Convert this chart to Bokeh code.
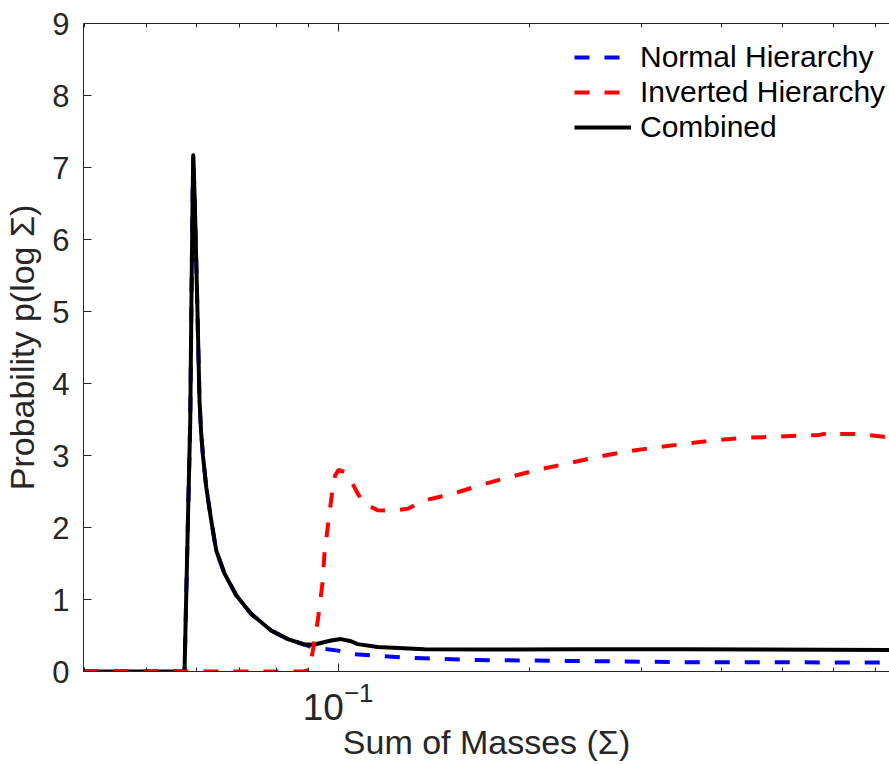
from bokeh.plotting import figure
from bokeh.models import FixedTicker, LogAxis, Legend, LegendItem, LogTickFormatter
from bokeh.embed import file_html
from bokeh.resources import INLINE

# ---------------- data ----------------
combined_x = [0.0398, 0.0569, 0.05737, 0.05808, 0.05857, 0.05882, 0.05906, 0.05921,
              0.05953, 0.06006, 0.06057, 0.06094, 0.06132, 0.06206, 0.06318, 0.06434, 0.0663,
              0.06917, 0.07302, 0.07849, 0.08337, 0.08852, 0.0918, 0.0975, 0.10109,
              0.10481, 0.10738, 0.11541, 0.13663, 0.1739, 0.2407, 0.3455, 0.7356]
combined_y = [0.0, 0.0, 0.01, 2.1, 3.49, 5.15, 6.54, 7.17,
              6.54, 5.15, 3.75, 3.3, 3.0, 2.56, 2.10, 1.68, 1.36,
              1.06, 0.80, 0.57, 0.45, 0.375, 0.375, 0.43, 0.45,
              0.42, 0.38, 0.34, 0.31, 0.305, 0.31, 0.31, 0.30]

normal_x = [0.0398, 0.0569, 0.05737, 0.05808, 0.05857, 0.05882, 0.05906, 0.05921,
            0.05953, 0.06006, 0.06057, 0.06094, 0.06132, 0.06206, 0.06318, 0.06434, 0.0663,
            0.06917, 0.07302, 0.07849, 0.08337, 0.08852, 0.09071, 0.0918, 0.1,
            0.10481, 0.11402, 0.12864, 0.14511, 0.16368, 0.2407, 0.3455, 0.7356]
normal_y = [0.0, 0.0, 0.01, 2.1, 3.49, 5.15, 6.54, 7.17,
            6.54, 5.15, 3.75, 3.3, 3.0, 2.56, 2.10, 1.68, 1.36,
            1.06, 0.80, 0.57, 0.45, 0.375, 0.34, 0.33, 0.29,
            0.245, 0.22, 0.19, 0.176, 0.16, 0.145, 0.13, 0.125]

inverted_x = [0.0398, 0.08812, 0.09014, 0.09127, 0.09293, 0.09462, 0.09517, 0.0969,
              0.09811, 0.09892, 0.1002, 0.10231, 0.10481, 0.10738, 0.10998, 0.11541,
              0.12111, 0.12864, 0.13663, 0.14511, 0.15414, 0.1677, 0.18243, 0.20334,
              0.22666, 0.25263, 0.28155, 0.31379, 0.34963, 0.38969, 0.43431, 0.48407,
              0.53641, 0.5664, 0.58003, 0.59274, 0.60514, 0.64647, 0.67032, 0.72045, 0.7356]
inverted_y = [0.0, 0.0, 0.02, 0.29, 0.71, 1.26, 1.63, 2.19,
              2.56, 2.72, 2.80, 2.77, 2.65, 2.47, 2.33, 2.24,
              2.23, 2.26, 2.375, 2.43, 2.49, 2.59, 2.68, 2.79,
              2.88, 2.97, 3.05, 3.11, 3.16, 3.21, 3.245, 3.26,
              3.28, 3.28, 3.30, 3.27, 3.30, 3.30, 3.29, 3.26, 3.27]

x_major_ticks = [0.1]
x_minor_ticks = [0.04, 0.05, 0.06, 0.07, 0.08, 0.09, 0.2, 0.3, 0.4, 0.5, 0.6, 0.7]
y_ticks = [0, 1, 2, 3, 4, 5, 6, 7, 8, 9]
series_labels = ["Normal Hierarchy", "Inverted Hierarchy", "Combined"]

FONT = "Liberation Sans"
AX_COL = "#262626"

p = figure(width=889, height=765, x_axis_type="log",
           x_range=(0.0398, 0.7356), y_range=(0, 9),
           output_backend="svg", toolbar_location=None,
           min_border_left=82, min_border_right=0, min_border_top=23, min_border_bottom=94)
p.outline_line_color = None
p.xgrid.visible = False
p.ygrid.visible = False
p.background_fill_color = "white"
p.border_fill_color = "white"

r_blue = p.line(normal_x, normal_y, line_color="#0000FF", line_width=4, line_dash="15 15")
r_black = p.line(combined_x, combined_y, line_color="black", line_width=4, line_join="round")
r_red = p.line(inverted_x, inverted_y, line_color="#FF0000", line_width=4, line_dash="15 15")

# x axis
xa = p.xaxis[0]
xa.ticker = FixedTicker(ticks=x_major_ticks, minor_ticks=x_minor_ticks)
xa.formatter = LogTickFormatter()
xa.major_tick_in = 8
xa.major_tick_out = 0
xa.minor_tick_in = 4
xa.minor_tick_out = 0
xa.major_label_standoff = 10
xa.major_label_text_font = FONT
xa.major_label_text_font_size = "37px"
xa.major_label_text_color = AX_COL
xa.axis_label = "Sum of Masses (Σ)"
xa.axis_label_text_font = FONT
xa.axis_label_text_font_size = "34px"
xa.axis_label_text_font_style = "normal"
xa.axis_label_text_color = AX_COL
xa.axis_label_standoff = 0
xa.axis_line_color = AX_COL
xa.major_tick_line_color = AX_COL
xa.minor_tick_line_color = AX_COL

# y axis
ya = p.yaxis[0]
ya.ticker = FixedTicker(ticks=y_ticks)
ya.major_tick_in = 8
ya.major_tick_out = 0
ya.minor_tick_line_color = None
ya.major_label_standoff = 14
ya.major_label_text_font = FONT
ya.major_label_text_font_size = "31px"
ya.major_label_text_color = AX_COL
ya.axis_label = "Probability p(log Σ)"
ya.axis_label_text_font = FONT
ya.axis_label_text_font_size = "34px"
ya.axis_label_text_font_style = "normal"
ya.axis_label_text_color = AX_COL
ya.axis_label_standoff = 8
ya.axis_line_color = AX_COL
ya.major_tick_line_color = AX_COL

# top axis (box edge with inward ticks, no visible labels)
top = LogAxis(ticker=FixedTicker(ticks=x_major_ticks, minor_ticks=x_minor_ticks))
top.major_tick_in = 8
top.major_tick_out = 0
top.minor_tick_in = 4
top.minor_tick_out = 0
top.major_label_text_font_size = "8px"
top.major_label_text_color = None
top.major_label_standoff = 0
top.axis_line_color = AX_COL
top.major_tick_line_color = AX_COL
top.minor_tick_line_color = AX_COL
p.add_layout(top, "above")

legend = Legend(items=[LegendItem(label=series_labels[0], renderers=[r_blue]),
                       LegendItem(label=series_labels[1], renderers=[r_red]),
                       LegendItem(label=series_labels[2], renderers=[r_black])],
                location=(491, 527))
legend.label_text_font = FONT
legend.label_text_font_size = "30px"
legend.label_text_color = "black"
legend.glyph_width = 57
legend.glyph_height = 32
legend.label_height = 32
legend.label_standoff = 9
legend.spacing = 1
legend.padding = 0
legend.margin = 0
legend.border_line_color = None
legend.background_fill_alpha = 0
p.add_layout(legend)

open("out.html", "w").write(file_html(p, INLINE))
